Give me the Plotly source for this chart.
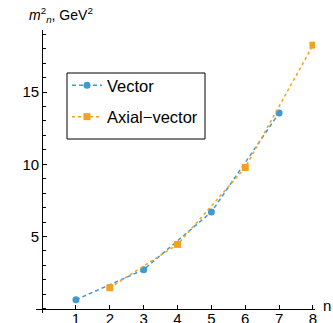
import plotly.graph_objects as go

vector_n = [1, 3, 5, 7]
vector_m2 = [0.62, 2.7, 6.7, 13.55]
axial_n = [2, 4, 6, 8]
axial_m2 = [1.45, 4.45, 9.78, 18.25]
x_ticks = [1, 2, 3, 4, 5, 6, 7, 8]
y_ticks = [5, 10, 15]

BLUE = "#3F9AD2"
ORANGE = "#F2A21F"
FONT = "Liberation Sans"

xr = [-0.18, 8.06]
yr = [-0.3, 19.3]

fig = go.Figure()
fig.add_trace(go.Scatter(
    x=vector_n, y=vector_m2, name="Vector", mode="lines+markers",
    line=dict(color=BLUE, width=1.5, dash="4px,3px"),
    marker=dict(symbol="circle", size=7, color=BLUE),
    legendgroup="v",
))
fig.add_trace(go.Scatter(
    x=axial_n, y=axial_m2, name="Axial\u2212vector", mode="lines+markers",
    line=dict(color=ORANGE, width=1.5, dash="dot"),
    marker=dict(symbol="square", size=7, color=ORANGE),
    legendgroup="a",
))

PW, PH = 279, 283
X0, Y0 = 36, 313  # window px of plot-area left / bottom


def px(x):
    return (x - X0) / PW


def py(y):
    return (Y0 - y) / PH


fig.update_layout(
    width=333, height=323,
    margin=dict(l=36, r=18, t=30, b=10, autoexpand=False),
    plot_bgcolor="white", paper_bgcolor="white",
    font=dict(family=FONT, size=15, color="black"),
    showlegend=True,
    legend=dict(
        x=px(67), y=py(68), xanchor="left", yanchor="top",
        borderwidth=0, bgcolor="rgba(0,0,0,0)",
        font=dict(family=FONT, size=16.5, color="black"),
        tracegroupgap=7, traceorder="grouped",
    ),
    shapes=[dict(type="rect", xref="paper", yref="paper",
                 x0=px(67), x1=px(205), y0=py(139), y1=py(73),
                 line=dict(color="black", width=1), layer="below")],
    xaxis=dict(
        range=xr, showgrid=False, zeroline=False, automargin=False,
        showline=True, linecolor="black", linewidth=1,
        anchor="free", position=(0 - yr[0]) / (yr[1] - yr[0]),
        tickmode="array", tickvals=x_ticks, ticktext=[str(v) for v in x_ticks],
        ticks="inside", ticklen=4, tickcolor="black",
        tickfont=dict(family=FONT, size=15), ticklabelstandoff=-4,
    ),
    yaxis=dict(
        range=yr, showgrid=False, zeroline=False, automargin=False,
        showline=True, linecolor="black", linewidth=1,
        anchor="free", position=(0 - xr[0]) / (xr[1] - xr[0]),
        tickmode="array", tickvals=y_ticks, ticktext=[str(v) for v in y_ticks],
        ticks="inside", ticklen=4, tickcolor="black",
        tickfont=dict(family=FONT, size=15),
        minor=dict(tickmode="linear", tick0=0, dtick=1, ticks="inside",
                   ticklen=2.5, tickcolor="black", showgrid=False),
    ),
    annotations=[
        dict(text="<i>m</i><sup>2</sup><sub><i>n</i></sub>, GeV<sup>2</sup>",
             xref="paper", yref="paper", x=px(27), y=py(15),
             xanchor="left", yanchor="middle", showarrow=False,
             font=dict(family=FONT, size=14)),
        dict(text="n", xref="paper", yref="paper", x=px(321),
             y=py(305), xanchor="left", yanchor="middle",
             showarrow=False, font=dict(family=FONT, size=15)),
    ],
)

fig.write_html(
    "out.html",
    config={"displayModeBar": False},
    post_script="document.body.style.margin='0';document.body.style.overflow='hidden';",
)
